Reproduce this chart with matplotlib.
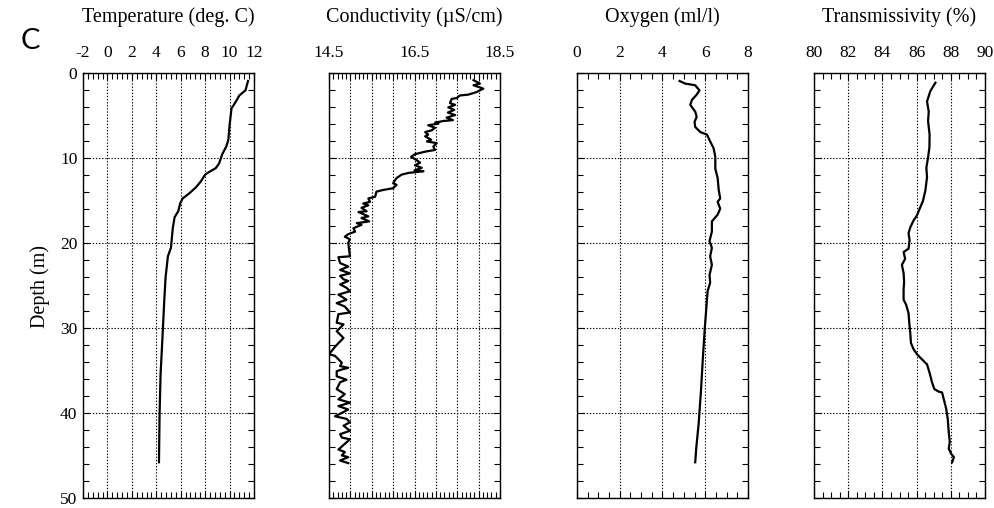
import matplotlib
matplotlib.use("Agg")
import matplotlib.pyplot as plt
from matplotlib.ticker import MultipleLocator, FixedLocator, FuncFormatter

plt.rcParams['font.family'] = ['Liberation Serif', 'DejaVu Serif']

# ---------------- data ----------------
temp_depth = [1.0, 2.1, 2.7, 3.2, 3.8, 4.2, 6.2, 7.9, 8.7, 9.6, 10.7, 11.25, 11.7, 12.0,
              12.8, 13.5, 14.2, 14.8, 15.4, 16.3, 17.0, 18.3, 20.6, 21.6, 24.1, 26.9,
              31.6, 35.5, 40.1, 45.8]
temp_val = [11.51, 11.3, 10.8, 10.6, 10.35, 10.16, 10.0, 9.9, 9.73, 9.4, 9.14, 8.86, 8.32, 8.0,
            7.65, 7.24, 6.7, 6.16, 5.95, 5.8, 5.5, 5.35, 5.2, 4.95, 4.76, 4.65,
            4.49, 4.35, 4.27, 4.22]

cond_depth = [0.9, 1.3, 1.5, 1.9, 2.3, 2.6, 2.7, 3.0, 3.1, 3.6, 3.8, 4.1, 4.4, 4.7, 5.0, 5.3,
              5.6, 5.7, 5.9, 6.0, 6.2, 6.5, 6.8, 7.0, 7.3, 7.5, 7.9, 8.1, 8.3, 8.7, 9.1, 9.3,
              9.6, 9.9, 10.3, 10.6, 10.9, 11.2, 11.5, 11.6, 11.8, 12.0, 12.4, 13.0, 13.2,
              13.6, 13.8, 14.0, 14.6, 14.8, 15.2, 15.4, 15.6, 15.9, 16.3, 16.4, 16.9, 17.1,
              17.5, 17.7, 17.9, 18.3, 18.7, 19.0, 19.3, 19.6, 20.0, 21.6, 21.7, 22.4, 22.8,
              23.2, 23.6, 23.9, 24.3, 24.5, 24.9, 25.3, 25.7, 26.1, 26.7, 27.1, 27.5, 28.2,
              28.4, 29.4, 29.6, 30.4, 31.2, 31.8, 32.3, 33.1, 33.3, 34.1, 34.5, 34.7, 34.9,
              35.1, 35.7, 36.1, 36.4, 37.2, 37.8, 38.4, 38.8, 39.2, 39.6, 40.0, 40.4, 40.7,
              41.1, 41.5, 42.1, 42.5, 42.9, 43.1, 44.3, 44.6, 45.0, 45.2, 45.6, 45.9]
cond_val = [17.88, 18.03, 17.88, 18.11, 17.95, 17.76, 17.56, 17.49, 17.37, 17.33, 17.45, 17.29,
            17.43, 17.28, 17.45, 17.25, 17.4, 17.17, 16.98, 17.06, 16.82, 16.98, 16.9, 16.75,
            16.82, 16.75, 16.89, 16.79, 17.02, 16.94, 16.98, 16.75, 16.51, 16.42, 16.55,
            16.63, 16.51, 16.67, 16.5, 16.71, 16.36, 16.2, 16.08, 16.0, 16.08, 16.0, 15.77,
            15.61, 15.58, 15.42, 15.46, 15.3, 15.42, 15.26, 15.38, 15.19, 15.42, 15.26,
            15.44, 15.15, 15.26, 15.07, 15.11, 14.95, 14.87, 14.99, 14.95, 14.99, 14.72,
            14.76, 14.95, 14.76, 14.99, 14.76, 14.84, 14.95, 14.76, 14.91, 14.99, 14.72,
            14.91, 14.68, 14.87, 14.99, 14.72, 14.68, 14.84, 14.68, 14.84, 14.72, 14.63,
            14.5, 14.64, 14.8, 14.76, 14.95, 14.8, 14.68, 14.68, 14.91, 14.76, 14.68, 14.87,
            14.72, 14.99, 14.72, 14.95, 14.8, 14.64, 14.91, 14.99, 14.84, 14.99, 14.76,
            14.8, 14.99, 14.72, 14.87, 14.8, 14.95, 14.76, 14.95]

oxy_depth = [1.0, 1.3, 1.5, 2.1, 2.6, 3.2, 3.8, 4.6, 5.2, 5.8, 6.4, 7.0, 7.3, 8.1, 8.9, 9.9,
             11.3, 12.4, 13.8, 14.8, 15.2, 16.0, 16.7, 17.5, 18.7, 19.8, 20.6, 21.6, 22.6,
             23.8, 24.7, 25.7, 27.7, 30.0, 33.5, 37.4, 41.3, 44.1, 45.8]
oxy_val = [4.8, 5.06, 5.53, 5.73, 5.6, 5.38, 5.3, 5.53, 5.6, 5.5, 5.53, 5.77, 6.08, 6.23,
           6.39, 6.47, 6.47, 6.58, 6.63, 6.7, 6.58, 6.7, 6.58, 6.31, 6.31, 6.2, 6.31, 6.23,
           6.31, 6.2, 6.23, 6.11, 6.05, 5.98, 5.89, 5.8, 5.69, 5.58, 5.53]

trans_depth = [1.2, 2.2, 3.4, 4.6, 5.7, 7.3, 8.8, 10.0, 11.2, 12.3, 13.9, 15.1, 16.0, 16.8,
               17.4, 18.2, 18.9, 19.7, 20.7, 21.1, 21.9, 22.6, 23.6, 24.6, 25.5, 26.7, 27.3,
               28.3, 29.4, 30.6, 31.8, 32.5, 33.1, 33.7, 34.3, 35.3, 36.4, 37.2, 37.5, 37.6,
               38.4, 39.5, 40.7, 42.3, 43.4, 44.2, 44.8, 45.2, 45.8]
trans_val = [87.1, 86.8, 86.61, 86.71, 86.67, 86.76, 86.75, 86.67, 86.57, 86.61, 86.51, 86.37,
             86.18, 86.02, 85.82, 85.63, 85.53, 85.59, 85.53, 85.24, 85.33, 85.14, 85.24,
             85.27, 85.24, 85.24, 85.39, 85.53, 85.57, 85.63, 85.67, 85.82, 86.02, 86.31,
             86.61, 86.76, 86.9, 87.04, 87.29, 87.49, 87.59, 87.73, 87.82, 87.88, 87.94,
             87.88, 88.02, 88.18, 88.08]

titles = ["Temperature (deg. C)", "Conductivity (\u00b5S/cm)", "Oxygen (ml/l)", "Transmissivity (%)"]
xlims = [(-2, 12), (14.5, 18.5), (0, 8), (80, 90)]
xmajor = [2, 0.5, 2, 2]
xminor = [0.4, 0.1, 0.5, 0.5]
cond_labels = [14.5, 16.5, 18.5]
depth_ticks = [0, 10, 20, 30, 40, 50]

# ---------------- layout ----------------
W, H = 995, 508
fig = plt.figure(figsize=(W / 100, H / 100), dpi=100)
lefts = [83, 329, 577, 814]
width_px = 171
top_px, bot_px = 72.5, 498

series = [(temp_val, temp_depth), (cond_val, cond_depth), (oxy_val, oxy_depth), (trans_val, trans_depth)]

for i in range(4):
    ax = fig.add_axes([lefts[i] / W, 1 - bot_px / H, width_px / W, (bot_px - top_px) / H])
    x, d = series[i]
    ax.plot(x, d, color='black', lw=1.6)
    ax.set_xlim(*xlims[i])
    ax.set_ylim(50, 0)
    ax.xaxis.set_major_locator(MultipleLocator(xmajor[i]))
    ax.xaxis.set_minor_locator(MultipleLocator(xminor[i]))
    ax.yaxis.set_major_locator(FixedLocator(depth_ticks))
    ax.yaxis.set_minor_locator(MultipleLocator(2))
    ax.grid(True, which='major', linestyle=(0, (1.2, 1.6)), color='black', lw=0.8)
    ax.tick_params(which='both', direction='in', top=True, bottom=True, left=True, right=True,
                   labeltop=True, labelbottom=False, labelsize=12.5, color='black')
    ax.tick_params(which='major', length=5, width=0.8, pad=8)
    ax.tick_params(which='minor', length=4, width=0.8)
    ax.tick_params(axis='y', which='major', pad=4)
    if i == 1:
        ax.xaxis.set_major_formatter(FuncFormatter(
            lambda v, p: (f"{v:.1f}" if any(abs(v - c) < 1e-6 for c in cond_labels) else "")))
    else:
        ax.xaxis.set_major_formatter(FuncFormatter(lambda v, p: f"{v:g}"))
    if i == 0:
        ax.yaxis.set_major_formatter(FuncFormatter(lambda v, p: f"{v:g}"))
    else:
        ax.tick_params(axis='y', labelleft=False)
    for s in ax.spines.values():
        s.set_linewidth(1.0)
        s.set_color('black')
    fig.text((lefts[i] + width_px / 2) / W, 1 - 17 / H, titles[i], ha='center', va='center',
             fontsize=14.5)

fig.text(40 / W, 1 - 287 / H, "Depth (m)", rotation=90, ha='center', va='center', fontsize=14.5)
fig.text(30 / W, 1 - 41 / H, "C", ha='center', va='center', fontsize=21,
         family=['Lato', 'DejaVu Sans'])

fig.savefig("out.png", dpi=100)
